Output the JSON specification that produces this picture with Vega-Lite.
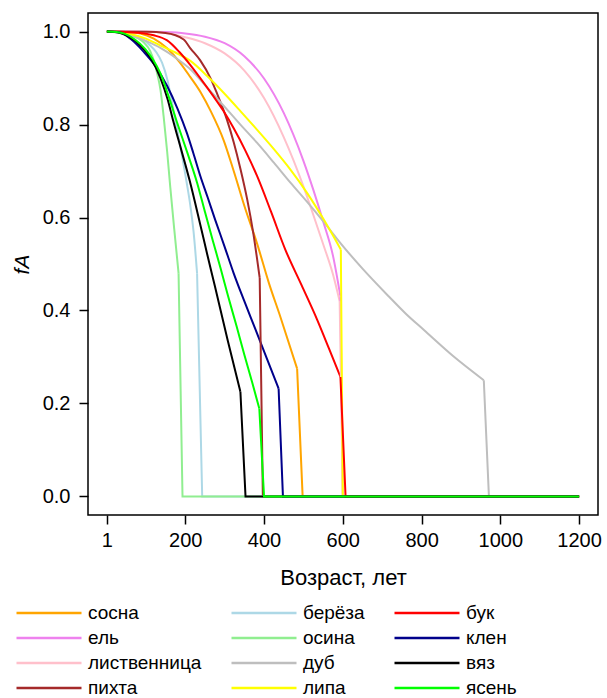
{
  "$schema": "https://vega.github.io/schema/vega-lite/v6.json",
  "width": 510,
  "height": 502,
  "autosize": {"type": "none"},
  "padding": {"left": 88, "top": 13, "right": 9, "bottom": 183},
  "background": "white",
  "data": {"values": [
    {"s":"сосна","p":"c","a":1,"f":1},{"s":"сосна","p":"c","a":50,"f":0.999},{"s":"сосна","p":"c","a":86,"f":0.996},{"s":"сосна","p":"c","a":120,"f":0.985},{"s":"сосна","p":"c","a":154,"f":0.964},{"s":"сосна","p":"c","a":185,"f":0.935},{"s":"сосна","p":"c","a":213,"f":0.902},{"s":"сосна","p":"c","a":240,"f":0.868},{"s":"сосна","p":"c","a":264,"f":0.83},{"s":"сосна","p":"c","a":298,"f":0.765},{"s":"сосна","p":"c","a":323,"f":0.7},{"s":"сосна","p":"c","a":352,"f":0.62},{"s":"сосна","p":"c","a":382,"f":0.545},{"s":"сосна","p":"c","a":412,"f":0.46},{"s":"сосна","p":"c","a":442,"f":0.385},{"s":"сосна","p":"k","a":484,"f":0.275},{"s":"сосна","p":"d","a":498,"f":0},{"s":"сосна","p":"d","a":1200,"f":0},
    {"s":"ель","p":"c","a":1,"f":1},{"s":"ель","p":"c","a":100,"f":0.9999},{"s":"ель","p":"c","a":150,"f":0.999},{"s":"ель","p":"c","a":200,"f":0.996},{"s":"ель","p":"c","a":250,"f":0.989},{"s":"ель","p":"c","a":300,"f":0.975},{"s":"ель","p":"c","a":350,"f":0.947},{"s":"ель","p":"c","a":400,"f":0.899},{"s":"ель","p":"c","a":450,"f":0.825},{"s":"ель","p":"c","a":500,"f":0.722},{"s":"ель","p":"c","a":525,"f":0.66},{"s":"ель","p":"c","a":550,"f":0.592},{"s":"ель","p":"c","a":575,"f":0.518},{"s":"ель","p":"k","a":594,"f":0.43},{"s":"ель","p":"d","a":600,"f":0},{"s":"ель","p":"d","a":1200,"f":0},
    {"s":"лиственница","p":"c","a":1,"f":1},{"s":"лиственница","p":"c","a":100,"f":0.9995},{"s":"лиственница","p":"c","a":150,"f":0.997},{"s":"лиственница","p":"c","a":200,"f":0.988},{"s":"лиственница","p":"c","a":250,"f":0.975},{"s":"лиственница","p":"c","a":300,"f":0.953},{"s":"лиственница","p":"c","a":350,"f":0.916},{"s":"лиственница","p":"c","a":400,"f":0.857},{"s":"лиственница","p":"c","a":450,"f":0.773},{"s":"лиственница","p":"c","a":500,"f":0.667},{"s":"лиственница","p":"c","a":525,"f":0.606},{"s":"лиственница","p":"c","a":550,"f":0.543},{"s":"лиственница","p":"c","a":575,"f":0.478},{"s":"лиственница","p":"k","a":592,"f":0.42},{"s":"лиственница","p":"d","a":600,"f":0},{"s":"лиственница","p":"d","a":1200,"f":0},
    {"s":"пихта","p":"c","a":1,"f":1},{"s":"пихта","p":"c","a":100,"f":0.9995},{"s":"пихта","p":"c","a":150,"f":0.997},{"s":"пихта","p":"c","a":196,"f":0.983},{"s":"пихта","p":"c","a":213,"f":0.964},{"s":"пихта","p":"c","a":238,"f":0.938},{"s":"пихта","p":"c","a":264,"f":0.9},{"s":"пихта","p":"c","a":281,"f":0.866},{"s":"пихта","p":"c","a":306,"f":0.81},{"s":"пихта","p":"c","a":323,"f":0.762},{"s":"пихта","p":"c","a":340,"f":0.705},{"s":"пихта","p":"c","a":357,"f":0.64},{"s":"пихта","p":"c","a":373,"f":0.565},{"s":"пихта","p":"k","a":389,"f":0.47},{"s":"пихта","p":"d","a":397,"f":0},{"s":"пихта","p":"d","a":1200,"f":0},
    {"s":"берёза","p":"c","a":1,"f":1},{"s":"берёза","p":"c","a":30,"f":0.999},{"s":"берёза","p":"c","a":60,"f":0.995},{"s":"берёза","p":"c","a":90,"f":0.985},{"s":"берёза","p":"c","a":111,"f":0.97},{"s":"берёза","p":"c","a":127,"f":0.955},{"s":"берёза","p":"c","a":141,"f":0.933},{"s":"берёза","p":"c","a":155,"f":0.895},{"s":"берёза","p":"c","a":167,"f":0.845},{"s":"берёза","p":"c","a":187,"f":0.755},{"s":"берёза","p":"c","a":203,"f":0.678},{"s":"берёза","p":"c","a":213,"f":0.625},{"s":"берёза","p":"c","a":221,"f":0.57},{"s":"берёза","p":"k","a":230,"f":0.48},{"s":"берёза","p":"d","a":243,"f":0},{"s":"берёза","p":"d","a":1200,"f":0},
    {"s":"осина","p":"c","a":1,"f":1},{"s":"осина","p":"c","a":30,"f":0.999},{"s":"осина","p":"c","a":60,"f":0.993},{"s":"осина","p":"c","a":93,"f":0.978},{"s":"осина","p":"c","a":111,"f":0.958},{"s":"осина","p":"c","a":120,"f":0.938},{"s":"осина","p":"c","a":130,"f":0.905},{"s":"осина","p":"c","a":137,"f":0.875},{"s":"осина","p":"c","a":145,"f":0.818},{"s":"осина","p":"c","a":154,"f":0.742},{"s":"осина","p":"c","a":162,"f":0.665},{"s":"осина","p":"c","a":172,"f":0.575},{"s":"осина","p":"k","a":183,"f":0.48},{"s":"осина","p":"d","a":193,"f":0},{"s":"осина","p":"d","a":1200,"f":0},
    {"s":"дуб","p":"c","a":1,"f":1},{"s":"дуб","p":"c","a":35,"f":0.997},{"s":"дуб","p":"c","a":69,"f":0.99},{"s":"дуб","p":"c","a":100,"f":0.98},{"s":"дуб","p":"c","a":137,"f":0.965},{"s":"дуб","p":"c","a":175,"f":0.944},{"s":"дуб","p":"c","a":213,"f":0.919},{"s":"дуб","p":"c","a":255,"f":0.88},{"s":"дуб","p":"c","a":298,"f":0.84},{"s":"дуб","p":"c","a":340,"f":0.8},{"s":"дуб","p":"c","a":382,"f":0.761},{"s":"дуб","p":"c","a":425,"f":0.718},{"s":"дуб","p":"c","a":467,"f":0.675},{"s":"дуб","p":"c","a":510,"f":0.633},{"s":"дуб","p":"c","a":552,"f":0.59},{"s":"дуб","p":"c","a":594,"f":0.545},{"s":"дуб","p":"c","a":650,"f":0.49},{"s":"дуб","p":"c","a":717,"f":0.43},{"s":"дуб","p":"c","a":760,"f":0.393},{"s":"дуб","p":"c","a":806,"f":0.358},{"s":"дуб","p":"c","a":880,"f":0.302},{"s":"дуб","p":"k","a":958,"f":0.25},{"s":"дуб","p":"d","a":971,"f":0},{"s":"дуб","p":"d","a":1200,"f":0},
    {"s":"липа","p":"c","a":1,"f":1},{"s":"липа","p":"c","a":30,"f":0.999},{"s":"липа","p":"c","a":60,"f":0.995},{"s":"липа","p":"c","a":100,"f":0.985},{"s":"липа","p":"c","a":137,"f":0.97},{"s":"липа","p":"c","a":175,"f":0.955},{"s":"липа","p":"c","a":213,"f":0.937},{"s":"липа","p":"c","a":255,"f":0.905},{"s":"липа","p":"c","a":298,"f":0.868},{"s":"липа","p":"c","a":340,"f":0.829},{"s":"липа","p":"c","a":382,"f":0.789},{"s":"липа","p":"c","a":425,"f":0.747},{"s":"липа","p":"c","a":467,"f":0.703},{"s":"липа","p":"c","a":510,"f":0.652},{"s":"липа","p":"c","a":552,"f":0.595},{"s":"липа","p":"k","a":595,"f":0.531},{"s":"липа","p":"d","a":600,"f":0},{"s":"липа","p":"d","a":1200,"f":0},
    {"s":"бук","p":"c","a":1,"f":1},{"s":"бук","p":"c","a":50,"f":0.999},{"s":"бук","p":"c","a":86,"f":0.997},{"s":"бук","p":"c","a":120,"f":0.992},{"s":"бук","p":"c","a":154,"f":0.981},{"s":"бук","p":"c","a":185,"f":0.956},{"s":"бук","p":"c","a":213,"f":0.928},{"s":"бук","p":"c","a":238,"f":0.9},{"s":"бук","p":"c","a":268,"f":0.865},{"s":"бук","p":"c","a":298,"f":0.828},{"s":"бук","p":"c","a":323,"f":0.792},{"s":"бук","p":"c","a":352,"f":0.745},{"s":"бук","p":"c","a":382,"f":0.69},{"s":"бук","p":"c","a":418,"f":0.612},{"s":"бук","p":"c","a":454,"f":0.531},{"s":"бук","p":"c","a":495,"f":0.455},{"s":"бук","p":"c","a":535,"f":0.38},{"s":"бук","p":"c","a":565,"f":0.318},{"s":"бук","p":"k","a":594,"f":0.257},{"s":"бук","p":"d","a":607,"f":0},{"s":"бук","p":"d","a":1200,"f":0},
    {"s":"клен","p":"c","a":1,"f":1},{"s":"клен","p":"c","a":20,"f":0.9995},{"s":"клен","p":"c","a":35,"f":0.998},{"s":"клен","p":"c","a":60,"f":0.985},{"s":"клен","p":"c","a":94,"f":0.957},{"s":"клен","p":"c","a":125,"f":0.925},{"s":"клен","p":"c","a":154,"f":0.883},{"s":"клен","p":"c","a":180,"f":0.835},{"s":"клен","p":"c","a":204,"f":0.782},{"s":"клен","p":"c","a":220,"f":0.74},{"s":"клен","p":"c","a":238,"f":0.69},{"s":"клен","p":"c","a":257,"f":0.643},{"s":"клен","p":"c","a":276,"f":0.595},{"s":"клен","p":"c","a":300,"f":0.537},{"s":"клен","p":"c","a":323,"f":0.48},{"s":"клен","p":"c","a":350,"f":0.42},{"s":"клен","p":"c","a":378,"f":0.36},{"s":"клен","p":"c","a":408,"f":0.295},{"s":"клен","p":"k","a":437,"f":0.232},{"s":"клен","p":"d","a":448,"f":0},{"s":"клен","p":"d","a":1200,"f":0},
    {"s":"вяз","p":"c","a":1,"f":1},{"s":"вяз","p":"c","a":20,"f":0.999},{"s":"вяз","p":"c","a":35,"f":0.997},{"s":"вяз","p":"c","a":60,"f":0.988},{"s":"вяз","p":"c","a":86,"f":0.97},{"s":"вяз","p":"c","a":112,"f":0.943},{"s":"вяз","p":"c","a":137,"f":0.9},{"s":"вяз","p":"c","a":155,"f":0.855},{"s":"вяз","p":"c","a":170,"f":0.806},{"s":"вяз","p":"c","a":190,"f":0.745},{"s":"вяз","p":"c","a":211,"f":0.68},{"s":"вяз","p":"c","a":238,"f":0.585},{"s":"вяз","p":"c","a":256,"f":0.52},{"s":"вяз","p":"c","a":275,"f":0.453},{"s":"вяз","p":"c","a":308,"f":0.335},{"s":"вяз","p":"k","a":340,"f":0.225},{"s":"вяз","p":"d","a":353,"f":0},{"s":"вяз","p":"d","a":1200,"f":0},
    {"s":"ясень","p":"c","a":1,"f":1},{"s":"ясень","p":"c","a":25,"f":0.999},{"s":"ясень","p":"c","a":47,"f":0.995},{"s":"ясень","p":"c","a":72,"f":0.983},{"s":"ясень","p":"c","a":98,"f":0.963},{"s":"ясень","p":"c","a":118,"f":0.94},{"s":"ясень","p":"c","a":137,"f":0.91},{"s":"ясень","p":"c","a":158,"f":0.86},{"s":"ясень","p":"c","a":179,"f":0.805},{"s":"ясень","p":"c","a":205,"f":0.74},{"s":"ясень","p":"c","a":230,"f":0.675},{"s":"ясень","p":"c","a":250,"f":0.612},{"s":"ясень","p":"c","a":270,"f":0.55},{"s":"ясень","p":"c","a":290,"f":0.49},{"s":"ясень","p":"c","a":309,"f":0.43},{"s":"ясень","p":"c","a":330,"f":0.367},{"s":"ясень","p":"c","a":350,"f":0.305},{"s":"ясень","p":"c","a":370,"f":0.245},{"s":"ясень","p":"k","a":388,"f":0.189},{"s":"ясень","p":"d","a":400,"f":0},{"s":"ясень","p":"d","a":1200,"f":0}
  ]},
  "encoding": {
    "x": {
      "field": "a", "type": "quantitative",
      "scale": {"domain": [-46.96, 1247.96], "nice": false, "zero": false},
      "axis": {"values": [1, 200, 400, 600, 800, 1000, 1200], "format": "d", "title": "Возраст, лет", "titleFontSize": 22, "titleBaseline": "alphabetic", "titleY": 69, "labelPadding": 6}
    },
    "y": {
      "field": "f", "type": "quantitative",
      "scale": {"domain": [-0.04, 1.04], "nice": false, "zero": false},
      "axis": {"values": [0, 0.2, 0.4, 0.6, 0.8, 1.0], "format": ".1f", "title": "fA", "titleFontStyle": "italic", "titleAngle": -90, "titleBaseline": "alphabetic", "titleX": -60, "titleY": 251, "titleAlign": "center", "labelPadding": 9}
    },
    "color": {
      "field": "s", "type": "nominal",
      "scale": {
        "domain": ["сосна", "ель", "лиственница", "пихта", "берёза", "осина", "дуб", "липа", "бук", "клен", "вяз", "ясень"],
        "range": ["#FFA500", "#EE82EE", "#FFC0CB", "#A52A2A", "#ADD8E6", "#90EE90", "#BEBEBE", "#FFFF00", "#FF0000", "#00008B", "#000000", "#00FF00"]
      },
      "legend": {
        "orient": "none", "legendX": -73, "legendY": 590, "columns": 3, "title": null,
        "symbolType": "stroke", "symbolSize": 4225, "symbolStrokeWidth": 2.5, "clipHeight": 20,
        "labelFontSize": 19, "labelOffset": 5, "columnPadding": 28, "rowPadding": 5, "padding": 0,
        "labelFont": "Liberation Sans", "labelColor": "black"
      }
    }
  },
  "layer": [
    {"transform": [{"filter": "datum.p != 'd'"}], "mark": {"type": "line", "interpolate": "monotone", "strokeWidth": 2, "clip": false}},
    {"transform": [{"filter": "datum.p != 'c'"}], "mark": {"type": "line", "strokeWidth": 2, "clip": false}}
  ],
  "config": {
    "view": {"stroke": "black", "strokeWidth": 1.5},
    "font": "Liberation Sans",
    "axis": {
      "domain": false, "grid": false, "ticks": true, "tickColor": "black", "tickWidth": 1.5, "tickSize": 9,
      "labelColor": "black", "labelFont": "Liberation Sans", "labelFontSize": 20,
      "titleColor": "black", "titleFont": "Liberation Sans", "titleFontSize": 21, "titleFontWeight": "normal"
    }
  }
}
